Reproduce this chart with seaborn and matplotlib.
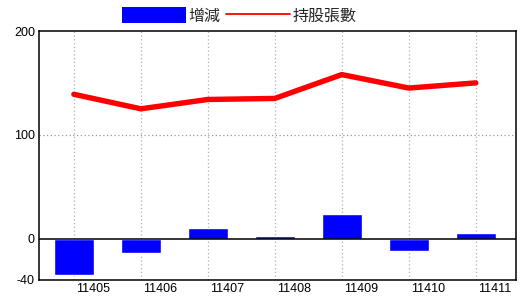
import matplotlib
matplotlib.use("Agg")
import matplotlib.pyplot as plt
import matplotlib.transforms as mtransforms
from matplotlib.patches import Patch
from matplotlib.lines import Line2D
import seaborn as sns
import pandas as pd

months = ["11405", "11406", "11407", "11408", "11409", "11410", "11411"]
change = [-35, -14, 10, 2, 24, -12, 5]
holdings = [139, 125, 134, 135, 158, 145, 150]
yticks = [-40, 0, 100, 200]
label_change = "增減"
label_hold = "持股張數"

sns.set_theme(style="white")
plt.rcParams["font.family"] = ["Noto Sans CJK TC", "DejaVu Sans"]

df = pd.DataFrame({"month": months, "change": change, "holdings": holdings})

fig = plt.figure(figsize=(5.2, 3.0), dpi=100)
ax = fig.add_axes([39 / 520, 1 - 280 / 300, (516 - 39) / 520, (280 - 31) / 300])

# grid first
for i in range(len(months)):
    ax.axvline(i, color="#9fb6c6", lw=0.9, ls=(0, (1, 2)), zorder=0)
ax.axhline(100, color="#999999", lw=0.9, ls=(0, (1, 2)), zorder=0)

sns.barplot(data=df, x="month", y="change", color="#0000ff", saturation=1,
            width=0.6, ax=ax, zorder=2)
sns.lineplot(data=df, x="month", y="holdings", color="#ff0000", lw=3.9,
             ax=ax, zorder=3, sort=False)
ax.axhline(0, color="black", lw=1.1, zorder=4)

ax.set_xlim(-0.52, 6.6)
ax.set_ylim(-40, 200)
ax.set_yticks(yticks)
ax.set_yticklabels([str(v) for v in yticks])
ax.set_xlabel("")
ax.set_ylabel("")
ax.tick_params(axis="both", length=0)
ax.tick_params(axis="y", pad=3)
ax.tick_params(axis="x", pad=2)
for lab in ax.get_xticklabels() + ax.get_yticklabels():
    lab.set_family(["Liberation Sans", "DejaVu Sans"])
    lab.set_fontsize(9)
    lab.set_color("black")
offset = mtransforms.ScaledTranslation(2 / 100, 0, fig.dpi_scale_trans)
for lab in ax.get_xticklabels():
    lab.set_horizontalalignment("left")
    lab.set_transform(lab.get_transform() + offset)

for s in ax.spines.values():
    s.set_color("black")
    s.set_linewidth(1.1)
    s.set_visible(True)

handles = [Patch(facecolor="#0000ff", edgecolor="none", label=label_change),
           Line2D([0], [0], color="#ff0000", lw=1.3, label=label_hold)]
fig.legend(handles=handles, loc="center", bbox_to_anchor=(0.46, 1 - 16 / 300),
           ncol=2, frameon=False, fontsize=11.5, handlelength=4.0,
           handleheight=1.1, handletextpad=0.15, columnspacing=0.4,
           borderaxespad=0, borderpad=0)

fig.savefig("out.png", dpi=100)
